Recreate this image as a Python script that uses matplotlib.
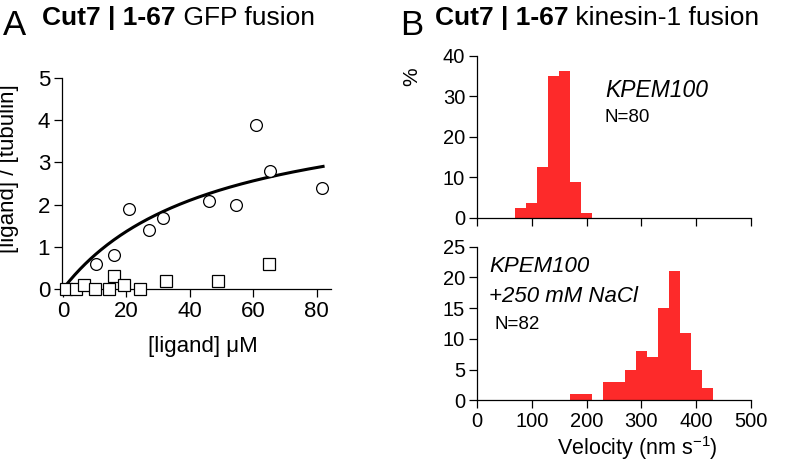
import numpy as np
import matplotlib
matplotlib.use("Agg")
import matplotlib.pyplot as plt

plt.rcParams['font.family'] = ['Liberation Sans', 'DejaVu Sans']
plt.rcParams['mathtext.default'] = 'regular'

W, H = 796, 465

# Panel A: binding data
circ_x = [10.3, 16.1, 20.9, 27.2, 31.5, 46.1, 54.4, 60.7, 65.4, 81.8]
circ_y = [0.6, 0.8, 1.89, 1.39, 1.69, 2.09, 1.99, 3.89, 2.8, 2.39]
sq_x = [1.0, 4.0, 6.5, 10.1, 14.5, 16.1, 19.4, 24.3, 32.4, 48.8, 65.1]
sq_y = [0.0, 0.0, 0.1, 0.0, 0.0, 0.3, 0.1, 0.0, 0.2, 0.2, 0.6]
# hyperbolic fit parameters
bmax, kd = 4.57, 47.0
fit_range = (0.5, 82.0)

# Panel B: velocity histograms
top_bins = [70, 90, 110, 130, 150, 170, 190]
top_vals = [2.5, 3.75, 12.5, 35, 36.25, 8.75, 1.25]
bot_bins = [170, 190, 210, 230, 250, 270, 290, 310, 330, 350, 370, 390, 410]
bot_vals = [1, 1, 0, 3, 3, 5, 8, 7, 15, 21, 11, 5, 2]

red = '#fd2a2a'


def box(left, top, right, bottom):
    return [left / W, 1 - bottom / H, (right - left) / W, (bottom - top) / H]


def style(ax, size):
    for s in ['top', 'right']:
        ax.spines[s].set_visible(False)
    for s in ['left', 'bottom']:
        ax.spines[s].set_linewidth(0.9)
    ax.tick_params(direction='out', length=5.5, width=0.9, labelsize=size, pad=3)


fig = plt.figure(figsize=(W / 100, H / 100), dpi=100)

# ---- panel A
axA = fig.add_axes(box(62, 78, 331, 289))
style(axA, 16)
xf = np.linspace(*fit_range, 200)
axA.plot(xf, bmax * xf / (kd + xf), color='black', lw=2.2, zorder=2)
axA.plot(circ_x, circ_y, 'o', ms=8.5, mfc='white', mec='black', mew=0.9, clip_on=False, zorder=3)
axA.plot(sq_x, sq_y, 's', ms=8, mfc='white', mec='black', mew=0.9, clip_on=False, zorder=3)
axA.set_xlim(-0.3, 84.5)
axA.set_ylim(0, 5)
axA.set_xticks([0, 20, 40, 60, 80])
axA.set_yticks([0, 1, 2, 3, 4, 5])

# ---- panel B
axT = fig.add_axes(box(477, 55.7, 751, 217.7))
style(axT, 14.5)
axT.bar(top_bins, top_vals, width=20, align='edge', color=red, lw=0)
axT.set_xlim(0, 500)
axT.set_ylim(0, 40)
axT.set_xticks(range(0, 501, 100))
axT.set_xticklabels([])
axT.set_yticks(range(0, 41, 10))

axB = fig.add_axes(box(477, 246.7, 751, 400.3))
style(axB, 14.5)
axB.bar(bot_bins, bot_vals, width=20, align='edge', color=red, lw=0)
axB.set_xlim(0, 500)
axB.set_ylim(0, 25)
axB.set_xticks(range(0, 501, 100))
axB.set_yticks(range(0, 26, 5))


def ftext(x, y, s, **kw):
    return fig.text(x / W, 1 - y / H, s, **kw)


# titles: bold part, then plain part placed right after it
ftext(3, 35, 'A', fontsize=25, va='baseline', ha='left')
ftext(400, 35, 'B', fontsize=25, va='baseline', ha='left')
for x0, rest in [(42, ' GFP fusion'), (435, ' kinesin-1 fusion')]:
    tb = ftext(x0, 25, 'Cut7 | 1-67', fontsize=19, fontweight='bold', va='baseline')
    fig.canvas.draw()
    bb = tb.get_window_extent()
    fig.text(bb.x1 / W, 1 - 25 / H, rest, fontsize=19, va='baseline')

# axis labels
ftext(9, 169, '[ligand] / [tubulin]', fontsize=16, rotation=90, ha='center', va='center')
ftext(203, 351.7, '[ligand] μM', fontsize=16, ha='center', va='baseline')
ftext(412, 77, '%', fontsize=15, rotation=90, ha='center', va='center')
ftext(637, 455, r'Velocity (nm s$^{-1}$)', fontsize=15.5, ha='center', va='baseline')

# annotations
ftext(605, 96.7, 'KPEM100', fontsize=16.5, style='italic', va='baseline')
ftext(605, 121.7, 'N=80', fontsize=13.5, va='baseline')
ftext(489, 271.7, 'KPEM100', fontsize=16, style='italic', va='baseline')
ftext(489, 301.7, '+250 mM NaCl', fontsize=16, style='italic', va='baseline')
ftext(494, 329.3, 'N=82', fontsize=13.5, va='baseline')

fig.savefig('out.png', dpi=100)
